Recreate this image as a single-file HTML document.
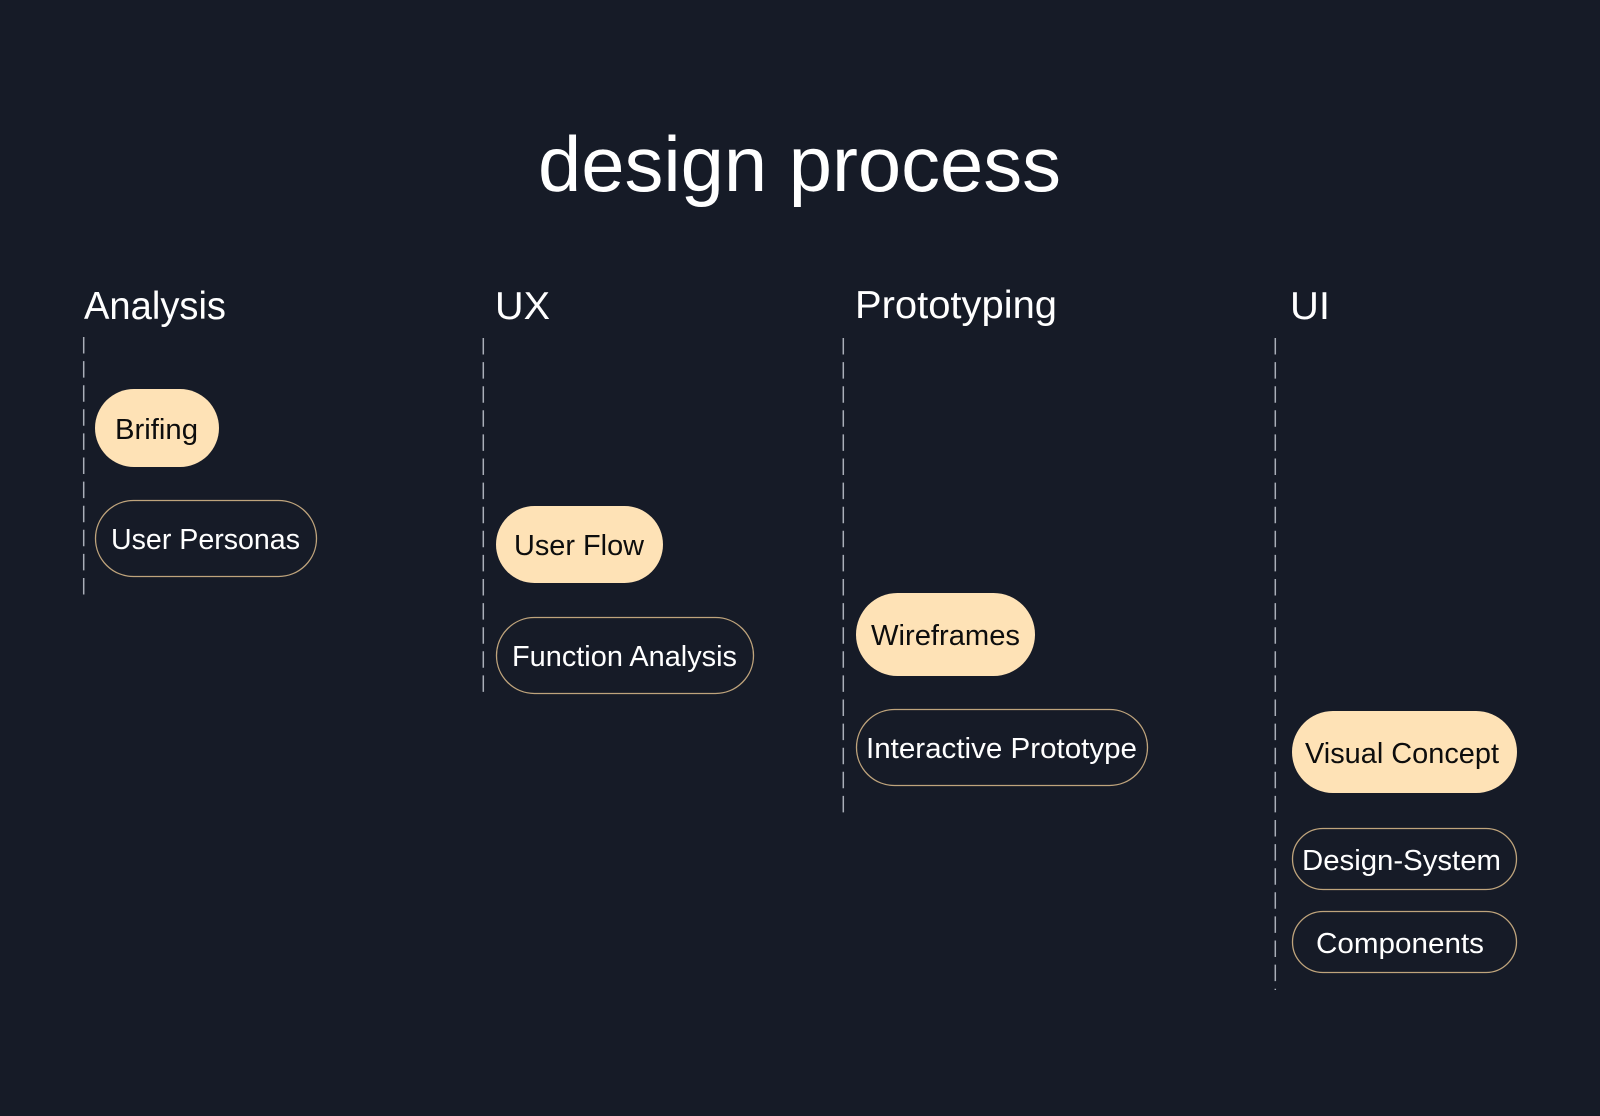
<!DOCTYPE html>
<html>
<head>
<meta charset="utf-8">
<style>
  html, body { margin: 0; padding: 0; background: #161b27; }
  body { width: 1600px; height: 1116px; overflow: hidden; }
  svg { display: block; }
  text { font-family: "Liberation Sans", "DejaVu Sans", sans-serif; }
</style>
</head>
<body>
<svg width="1600" height="1116" viewBox="0 0 1600 1116" xmlns="http://www.w3.org/2000/svg">
  <rect x="0" y="0" width="1600" height="1116" fill="#161b27"/>

  <!-- Title -->
  <text x="538" y="191" font-size="78" fill="#ffffff" textLength="523" lengthAdjust="spacingAndGlyphs">design process</text>

  <!-- Column headers -->
  <text x="84" y="319" font-size="39" fill="#ffffff" textLength="142" lengthAdjust="spacingAndGlyphs">Analysis</text>
  <text x="495" y="319" font-size="39" fill="#ffffff" textLength="55" lengthAdjust="spacingAndGlyphs">UX</text>
  <text x="855" y="318" font-size="39" fill="#ffffff" textLength="202" lengthAdjust="spacingAndGlyphs">Prototyping</text>
  <text x="1290" y="319" font-size="39" fill="#ffffff" textLength="40" lengthAdjust="spacingAndGlyphs">UI</text>

  <!-- Dashed lines -->
  <g stroke="#a9aeb8" stroke-width="1.5" stroke-dasharray="16.5 7.6" fill="none">
    <line x1="83.7" y1="337" x2="83.7" y2="595"/>
    <line x1="483.3" y1="338" x2="483.3" y2="697"/>
    <line x1="843.3" y1="338" x2="843.3" y2="817"/>
    <line x1="1275.3" y1="338" x2="1275.3" y2="990"/>
  </g>

  <!-- Filled pills -->
  <g fill="#fee2b6">
    <rect x="95" y="389" width="124" height="78" rx="39"/>
    <rect x="496" y="506" width="167" height="77" rx="38.5"/>
    <rect x="856" y="593" width="179" height="83" rx="41.5"/>
    <rect x="1292" y="711" width="225" height="82" rx="41"/>
  </g>

  <!-- Outline pills -->
  <g fill="none" stroke="#bfa47c" stroke-width="1.3">
    <rect x="95.5" y="500.5" width="221" height="76" rx="38"/>
    <rect x="496.5" y="617.5" width="257" height="76" rx="38"/>
    <rect x="856.5" y="709.5" width="291" height="76" rx="38"/>
    <rect x="1292.5" y="828.5" width="224" height="61" rx="30.5"/>
    <rect x="1292.5" y="911.5" width="224" height="61" rx="30.5"/>
  </g>

  <!-- Filled pill labels -->
  <g font-size="29" fill="#0d0d0d" text-anchor="middle">
    <text x="156.5" y="439" textLength="83" lengthAdjust="spacingAndGlyphs">Brifing</text>
    <text x="579" y="555" textLength="130" lengthAdjust="spacingAndGlyphs">User Flow</text>
    <text x="945.5" y="645" textLength="149" lengthAdjust="spacingAndGlyphs">Wireframes</text>
    <text x="1402" y="763" textLength="194" lengthAdjust="spacingAndGlyphs">Visual Concept</text>
  </g>

  <!-- Outline pill labels -->
  <g font-size="29" fill="#ffffff" text-anchor="middle">
    <text x="205.5" y="549" textLength="189" lengthAdjust="spacingAndGlyphs">User Personas</text>
    <text x="624.5" y="666" textLength="225" lengthAdjust="spacingAndGlyphs">Function Analysis</text>
    <text x="1001.5" y="758" textLength="271" lengthAdjust="spacingAndGlyphs">Interactive Prototype</text>
    <text x="1401.5" y="870" textLength="199" lengthAdjust="spacingAndGlyphs">Design-System</text>
    <text x="1400" y="953" textLength="168" lengthAdjust="spacingAndGlyphs">Components</text>
  </g>
</svg>
</body>
</html>
